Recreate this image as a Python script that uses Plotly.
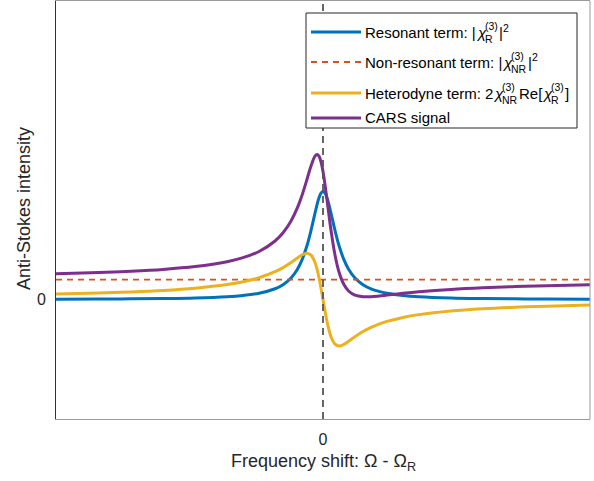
import plotly.graph_objects as go

# ---------------- data ----------------
# x in units of the resonance half-width, y in units of the non-resonant level
freq = [-16.7, -14, -12, -10, -8, -6, -5, -4, -3, -2.5, -2, -1.6, -1.3, -1,
        -0.75, -0.5, -0.375, -0.25, -0.125, 0, 0.125, 0.25, 0.375, 0.5, 0.75,
        1, 1.3, 1.6, 2, 2.5, 3, 3.5, 4, 5, 6, 8, 10, 12, 14, 16.7]
resonant = [0.019, 0.028, 0.037, 0.054, 0.084, 0.147, 0.209, 0.319, 0.543, 0.749,
            1.086, 1.525, 2.019, 2.715, 3.475, 4.344, 4.761, 5.111, 5.346, 5.430,
            5.346, 5.111, 4.761, 4.344, 3.475, 2.715, 2.019, 1.525, 1.086, 0.749,
            0.543, 0.410, 0.319, 0.209, 0.147, 0.084, 0.054, 0.037, 0.028, 0.019]
heterodyne = [0.278, 0.331, 0.386, 0.461, 0.574, 0.756, 0.896, 1.096, 1.398, 1.607,
              1.864, 2.094, 2.252, 2.330, 2.237, 1.864, 1.532, 1.096, 0.574, 0.0,
              -0.574, -1.096, -1.532, -1.864, -2.237, -2.330, -2.252, -2.094, -1.864, -1.607,
              -1.398, -1.231, -1.096, -0.896, -0.756, -0.574, -0.461, -0.386, -0.331, -0.278]
cars = [1.297, 1.359, 1.423, 1.515, 1.658, 1.903, 2.105, 2.415, 2.941, 3.356,
        3.950, 4.619, 5.271, 6.045, 6.712, 7.208, 7.293, 7.207, 6.920, 6.430,
        5.772, 5.015, 4.229, 3.480, 2.238, 1.385, 0.767, 0.431, 0.222, 0.142,
        0.145, 0.179, 0.223, 0.313, 0.391, 0.510, 0.593, 0.651, 0.697, 0.741]
nonres_x = [-16.7, 16.7]
nonres_y = [1.0, 1.0]

x_range = [-16.7, 16.7]
y_range = [-6, 15]
x_ticks = [0]
x_ticklabels = ["0"]
y_ticks = [0]
y_ticklabels = ["0"]

# ---------------- styling ----------------
W, H = 594, 481
ML, MR, MT, MB = 56, 4, 1, 62
PW, PH = W - ML - MR, H - MT - MB

C_BLUE = "#0072BD"
C_ORANGE = "#D95319"
C_YELLOW = "#EDB120"
C_PURPLE = "#7E2F8E"
TXT = "#262626"
FONT = "Liberation Sans, Arial, Helvetica, sans-serif"
LW = 3.0
LW_NR = 1.8


def px(xp):
    return (xp - ML) / PW


def py(yp):
    return (MT + PH - yp) / PH


fig = go.Figure()
fig.add_trace(go.Scatter(x=freq, y=resonant, mode="lines", line=dict(color=C_BLUE, width=LW, shape="spline"),
                         showlegend=False))
fig.add_trace(go.Scatter(x=nonres_x, y=nonres_y, mode="lines", line=dict(color=C_ORANGE, width=LW_NR, dash="6px,5px"),
                         showlegend=False))
fig.add_trace(go.Scatter(x=freq, y=heterodyne, mode="lines", line=dict(color=C_YELLOW, width=LW, shape="spline"),
                         showlegend=False))
fig.add_trace(go.Scatter(x=freq, y=cars, mode="lines", line=dict(color=C_PURPLE, width=LW, shape="spline"),
                         showlegend=False))

shapes = []
# vertical dashed line at zero shift
shapes.append(dict(type="line", xref="x", yref="paper", x0=0, x1=0, y0=0, y1=1,
                   line=dict(color="#555555", width=1.8, dash="7px,5px"), layer="above"))
# right border
shapes.append(dict(type="line", xref="paper", yref="paper", x0=1, x1=1, y0=0, y1=1,
                   line=dict(color="#9a9a9a", width=1), layer="above"))

# ---------------- manual legend ----------------
shapes.append(dict(type="rect", xref="paper", yref="paper", x0=px(306), x1=px(577), y0=py(128), y1=py(13),
                   fillcolor="white", line=dict(color="#262626", width=1), layer="above"))
legend_y = [32, 62, 93, 118]
legend_styles = [dict(color=C_BLUE, width=LW), dict(color=C_ORANGE, width=LW_NR, dash="6px,5px"),
                 dict(color=C_YELLOW, width=LW), dict(color=C_PURPLE, width=LW)]
for yy, st in zip(legend_y, legend_styles):
    shapes.append(dict(type="line", xref="paper", yref="paper", x0=px(311), x1=px(361), y0=py(yy), y1=py(yy),
                       line=st, layer="above"))

FM, FS = 15, 10.5
AW = {' ': 278, '-': 333, ':': 278, '|': 260, '[': 278, ']': 278, '2': 556, '3': 556, '(': 333, ')': 333,
      'R': 722, 'N': 722, 'H': 722, 'C': 722, 'A': 667, 'S': 667, 'e': 556, 's': 500, 'o': 556, 'n': 556,
      'a': 556, 't': 278, 'r': 333, 'm': 833, 'd': 556, 'y': 500, 'i': 222, 'g': 556, 'l': 222, 'χ': 540}


def tw(s, f):
    return sum(AW.get(c, 556) for c in s) / 1000 * f


annotations = []


def ann(text, xl, yc, size):
    annotations.append(dict(text=text, x=px(xl), y=py(yc), xref="paper", yref="paper", xanchor="left",
                            yanchor="middle", showarrow=False, borderpad=0, borderwidth=0,
                            font=dict(family=FONT, size=size, color="black")))


legend_entries = [
    [("m", "Resonant term: |"), ("x", "χ"), ("st", "(3)", "R"), ("m", "|"), ("sup", "2")],
    [("m", "Non-resonant term: |"), ("x", "χ"), ("st", "(3)", "NR"), ("m", "|"), ("sup", "2")],
    [("m", "Heterodyne term: 2"), ("x", "χ"), ("st", "(3)", "NR"), ("m", "Re["), ("x", "χ"),
     ("st", "(3)", "R"), ("m", "]")],
    [("m", "CARS signal")],
]
for yy, segs in zip(legend_y, legend_entries):
    cur = 365
    for seg in segs:
        kind = seg[0]
        if kind == "m":
            ann(seg[1], cur, yy, FM)
            cur += tw(seg[1], FM)
        elif kind == "x":
            ann("<i>" + seg[1] + "</i>", cur, yy, FM)
            cur += tw(seg[1], FM) + 0.5
        elif kind == "st":
            ann(seg[1], cur + 0.5, yy - 6.5, FS)
            ann(seg[2], cur + 0.5, yy + 7, FS)
            cur += max(tw(seg[1], FS), tw(seg[2], FS)) + 1.5
        elif kind == "sup":
            ann(seg[1], cur + 0.5, yy - 4.5, FS)
            cur += tw(seg[1], FS) + 1

# axis titles
annotations.append(dict(text="Frequency shift: Ω - Ω<sub>R</sub>", x=0.5, y=py(462), xref="paper", yref="paper",
                        xanchor="center", yanchor="middle", showarrow=False,
                        font=dict(family=FONT, size=18, color=TXT)))
annotations.append(dict(text="Anti-Stokes intensity", x=px(24), y=py(209), xref="paper", yref="paper",
                        xanchor="center", yanchor="middle", showarrow=False, textangle=-90,
                        font=dict(family=FONT, size=18, color=TXT)))

fig.update_layout(
    width=W, height=H, margin=dict(l=ML, r=MR, t=MT, b=MB, pad=0),
    paper_bgcolor="white", plot_bgcolor="white",
    font=dict(family=FONT, size=16, color=TXT),
    xaxis=dict(range=x_range, tickvals=x_ticks, ticktext=x_ticklabels, showgrid=False, zeroline=False,
               showline=True, linecolor="#9a9a9a", linewidth=1, mirror=True, ticks="", ticklabelstandoff=6,
               tickfont=dict(size=16, color=TXT)),
    yaxis=dict(range=y_range, tickvals=y_ticks, ticktext=y_ticklabels, showgrid=False, zeroline=False,
               showline=True, linecolor="#333333", linewidth=1, mirror=False, ticks="", ticklabelstandoff=6,
               tickfont=dict(size=16, color=TXT)),
    shapes=shapes,
    annotations=annotations,
    showlegend=False,
)

fig.write_html("out.html")
